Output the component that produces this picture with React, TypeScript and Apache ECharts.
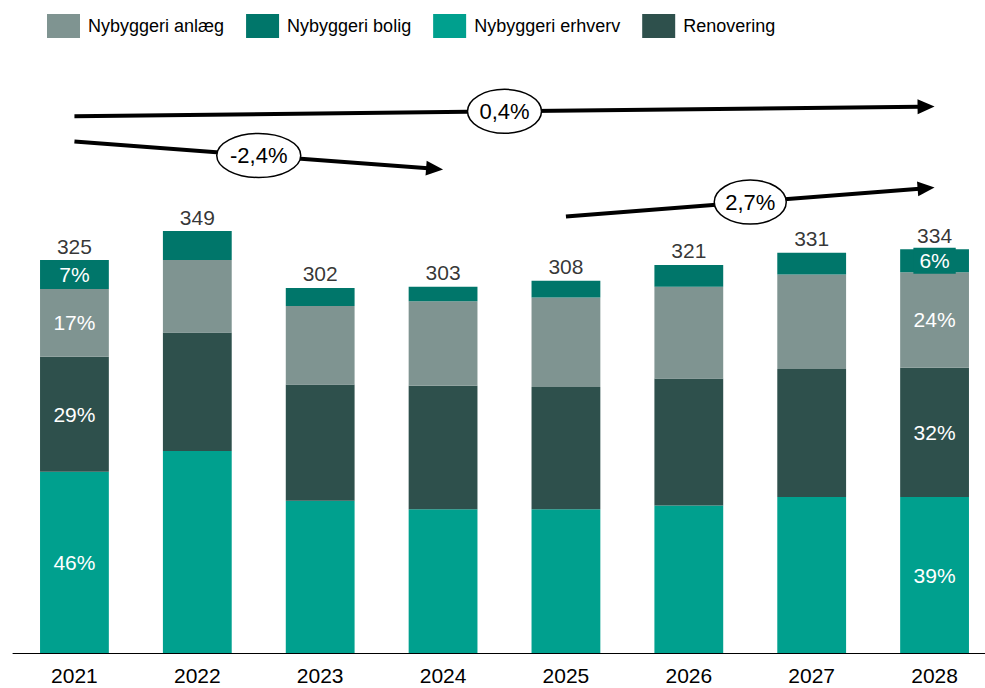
import React, { useEffect, useRef } from 'react';
import * as echarts from 'echarts';

const years = ['2021', '2022', '2023', '2024', '2025', '2026', '2027', '2028'];
const erhverv = [150, 167, 126, 119, 119, 122, 129, 129];
const renovering = [95, 98, 96, 102, 101, 105, 106, 107];
const anlaeg = [56, 60, 65, 70, 74, 76, 78, 79];
const bolig = [24, 24, 15, 12, 14, 18, 18, 19];
const totals = [325, 349, 302, 303, 308, 321, 331, 334];

const pctErhverv = ['46%', '', '', '', '', '', '', '39%'];
const pctRenovering = ['29%', '', '', '', '', '', '', '32%'];
const pctAnlaeg = ['17%', '', '', '', '', '', '', '24%'];
const pctBolig = ['7%', '', '', '', '', '', '', '6%'];

const trendArrows = [
  { from: ['2021', 444], to: ['2028', 452], text: '0,4%', rx: 37 },
  { from: ['2021', 423], to: ['2024', 400], text: '-2,4%', rx: 42 },
  { from: ['2025', 361], to: ['2028', 385], text: '2,7%', rx: 36 },
];

const FONT = "'Liberation Sans', Arial, sans-serif";
const C_ANLAEG = '#7F9491';
const C_BOLIG = '#00766A';
const C_ERHVERV = '#00A08E';
const C_RENOV = '#2E504C';

function pctLabel(arr: string[], extra: any = {}) {
  return {
    show: true,
    position: 'inside',
    color: '#ffffff',
    fontSize: 21,
    fontFamily: FONT,
    formatter: (p: any) => arr[p.dataIndex],
    ...extra,
  };
}

export default function App() {
  const ref = useRef<HTMLDivElement>(null);
  useEffect(() => {
    document.body.style.margin = '0';
    const chart = echarts.init(ref.current!, null, { renderer: 'svg' });
    chart.setOption({
      animation: false,
      textStyle: { fontFamily: FONT },
      legend: {
        data: ['Nybyggeri anlæg', 'Nybyggeri bolig', 'Nybyggeri erhverv', 'Renovering'],
        left: 47,
        top: 14,
        padding: 0,
        itemWidth: 33,
        itemHeight: 24,
        itemGap: 22,
        icon: 'rect',
        textStyle: { fontSize: 18, color: '#000', fontFamily: FONT, padding: [0, 0, 0, 3] },
      },
      grid: { left: 13, right: 0, top: 48.5, bottom: 35, containLabel: false },
      xAxis: {
        type: 'category',
        data: years,
        axisLine: { lineStyle: { color: '#000', width: 1 } },
        axisTick: { show: false },
        axisLabel: { color: '#000', fontSize: 21, margin: 12, fontFamily: FONT },
      },
      yAxis: { type: 'value', min: 0, max: 500, show: false, splitLine: { show: false } },
      series: [
        {
          name: 'Nybyggeri erhverv', type: 'bar', stack: 'a', barWidth: '56%', data: erhverv,
          itemStyle: { color: C_ERHVERV }, label: pctLabel(pctErhverv),
        },
        {
          name: 'Renovering', type: 'bar', stack: 'a', data: renovering,
          itemStyle: { color: C_RENOV }, label: pctLabel(pctRenovering),
        },
        {
          name: 'Nybyggeri anlæg', type: 'bar', stack: 'a', data: anlaeg,
          itemStyle: { color: C_ANLAEG }, label: pctLabel(pctAnlaeg),
        },
        {
          name: 'Nybyggeri bolig', type: 'bar', stack: 'a', data: bolig.map((v, i) => ({
            value: v,
            label: i === 7 ? { backgroundColor: C_BOLIG, padding: [3, 6, 2, 6] } : {},
          })),
          itemStyle: { color: C_BOLIG }, label: pctLabel(pctBolig),
        },
        {
          name: 'Total', type: 'scatter', data: totals, symbolSize: 1,
          itemStyle: { color: 'rgba(0,0,0,0)' },
          label: { show: true, position: 'top', distance: 3, color: '#000', fontSize: 21, fontFamily: FONT },
          silent: true,
        },
      ],
    });

    const graphics: any[] = [];
    trendArrows.forEach((a) => {
      const p0 = chart.convertToPixel({ gridIndex: 0 }, a.from as any) as number[];
      const p1 = chart.convertToPixel({ gridIndex: 0 }, a.to as any) as number[];
      const dx = p1[0] - p0[0];
      const dy = p1[1] - p0[1];
      const len = Math.sqrt(dx * dx + dy * dy);
      const ux = dx / len, uy = dy / len;
      const nx = -uy, ny = ux;
      const head = 17, hw = 7.5;
      const bx = p1[0] - ux * head, by = p1[1] - uy * head;
      graphics.push({
        type: 'line', z: 100,
        shape: { x1: p0[0], y1: p0[1], x2: bx + ux * 2, y2: by + uy * 2 },
        style: { stroke: '#000', lineWidth: 4 },
      });
      graphics.push({
        type: 'polygon', z: 100,
        shape: { points: [[p1[0], p1[1]], [bx + nx * hw, by + ny * hw], [bx - nx * hw, by - ny * hw]] },
        style: { fill: '#000' },
      });
      const mx = (p0[0] + p1[0]) / 2, my = (p0[1] + p1[1]) / 2;
      graphics.push({
        type: 'ellipse', z: 101,
        shape: { cx: mx, cy: my, rx: a.rx, ry: 22 },
        style: { fill: '#fff', stroke: '#000', lineWidth: 1.5 },
      });
      graphics.push({
        type: 'text', z: 102, x: mx, y: my,
        style: { text: a.text, align: 'center', verticalAlign: 'middle', fontSize: 22, fontFamily: FONT, fill: '#000' },
      });
    });
    chart.setOption({ graphic: graphics });

    return () => chart.dispose();
  }, []);
  return (
    <div style={{ width: 985, height: 688, overflow: 'hidden', position: 'relative' }}>
      <div ref={ref} style={{ width: 996, height: 688 }} />
    </div>
  );
}
